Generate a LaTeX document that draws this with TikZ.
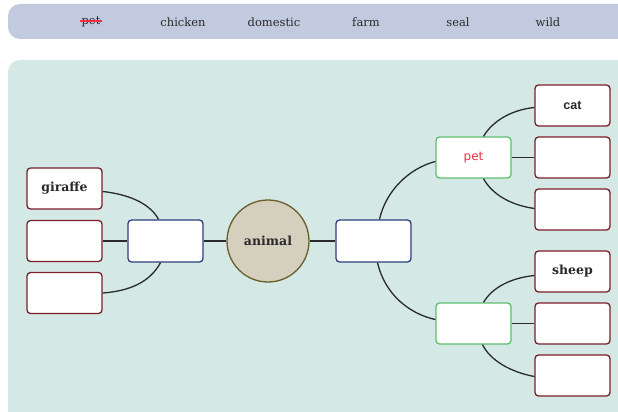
\documentclass[tikz,border=0pt]{standalone}
\usetikzlibrary{calc}
\usepackage{fontspec}
\setmainfont{DejaVu Serif}
\newfontfamily\armfont{Liberation Sans}
\newfontfamily\handfont{DejaVu Sans}
\definecolor{barblue}{HTML}{C1CADF}
\definecolor{panel}{HTML}{D4E9E5}
\definecolor{redbd}{HTML}{7A1E2A}
\definecolor{bluebd}{HTML}{2E3E7E}
\definecolor{greenbd}{HTML}{5DBE6E}
\definecolor{circfill}{HTML}{D5CFBE}
\definecolor{circbd}{HTML}{6B5E2A}
\definecolor{txt}{HTML}{2A2A2A}
\definecolor{penred}{HTML}{F03040}
\tikzset{
  leaf/.style={draw=redbd, line width=1.3pt, fill=white, rounded corners=3.5pt, minimum width=75pt, minimum height=41pt, inner sep=0pt, font=\fontsize{12.5}{14}\selectfont\bfseries, text=txt},
  hub/.style={draw=bluebd, line width=1.3pt, fill=white, rounded corners=3.5pt, minimum width=75pt, minimum height=42pt, inner sep=0pt},
  sub/.style={draw=greenbd, line width=1.3pt, fill=white, rounded corners=3.5pt, minimum width=75pt, minimum height=41pt, inner sep=0pt},
  link/.style={draw=txt, line width=1.3pt},
  word/.style={font=\fontsize{11.5}{13}\selectfont, text=txt, inner sep=1pt}
}
\begin{document}
\begin{tikzpicture}[x=1pt,y=-1pt]
\useasboundingbox (0,0) rectangle (618,412);
% top bar
\fill[barblue, rounded corners=12pt] (640,4) -- (8,4) -- (8,39) -- (640,39) -- cycle;
\node[word] (w1) at (91,22) {pet};
\draw[penred, line width=1.1pt] (w1.west |- 0,21) -- (w1.east |- 0,21);
\node[word] (w2) at (183,22) {chicken};
\node[word] (w3) at (274,22) {domestic};
\node[word] (w4) at (366,22) {farm};
\node[word] (w5) at (458,22) {seal};
\node[word] (w6) at (548,22) {wild};
% panel
\fill[panel, rounded corners=12pt] (640,60) -- (8,60) -- (8,440) -- (640,440) -- cycle;
% nodes
\node[circle, draw=circbd, line width=1.3pt, fill=circfill, minimum size=82pt, inner sep=0pt, font=\fontsize{12.5}{14}\selectfont\bfseries, text=txt] (animal) at (268,241) {animal};
\node[hub] (lh) at (165.5,241) {};
\node[hub] (rh) at (373.5,241) {};
\node[leaf] (giraffe) at (64.5,188.5) {giraffe};
\node[leaf] (l2) at (64.5,241) {};
\node[leaf] (l3) at (64.5,293) {};
\node[sub] (pet) at (473.5,157.5) {\handfont\fontsize{12}{14}\selectfont\color{penred}pet};
\node[sub] (s2) at (473.5,323.5) {};
\node[leaf] (cat) at (572.5,105.5) {\armfont\bfseries cat};
\node[leaf] (r2) at (572.5,157.5) {};
\node[leaf] (r3) at (572.5,209.5) {};
\node[leaf] (sheep) at (572.5,271.5) {sheep};
\node[leaf] (r5) at (572.5,323.5) {};
\node[leaf] (r6) at (572.5,375.5) {};
% connectors
\draw[link] (animal.west) -- (lh.east);
\draw[link] (animal.east) -- (rh.west);
\draw[link] (l2.east) -- (lh.west);
\draw[link] ($(giraffe.east)+(0,3)$) .. controls (135,195) and (152,207) .. ($(lh.north)+(-7,0)$);
\draw[link] ($(lh.south)+(-5,0)$) .. controls (150,282) and (130,291) .. (l3.east);
\draw[link] ($(rh.north)+(6,0)$) .. controls (386,190) and (410,168) .. ($(pet.west)+(0,4)$);
\draw[link] ($(rh.south)+(4,0)$) .. controls (385,295) and (410,314) .. ($(s2.west)+(0,-4)$);
\draw[link] ($(pet.north)+(10,0)$) .. controls (492,122) and (510,110) .. ($(cat.west)+(0,2)$);
\draw[link] (pet.east) -- (r2.west);
\draw[link] ($(pet.south)+(10,0)$) .. controls (492,194) and (510,205) .. ($(r3.west)+(0,-1)$);
\draw[link] ($(s2.north)+(10,0)$) .. controls (492,288) and (510,278) .. ($(sheep.west)+(0,4)$);
\draw[link] (s2.east) -- (r5.west);
\draw[link] ($(s2.south)+(9,0)$) .. controls (490,360) and (510,372) .. ($(r6.west)+(0,1)$);
\end{tikzpicture}
\end{document}
